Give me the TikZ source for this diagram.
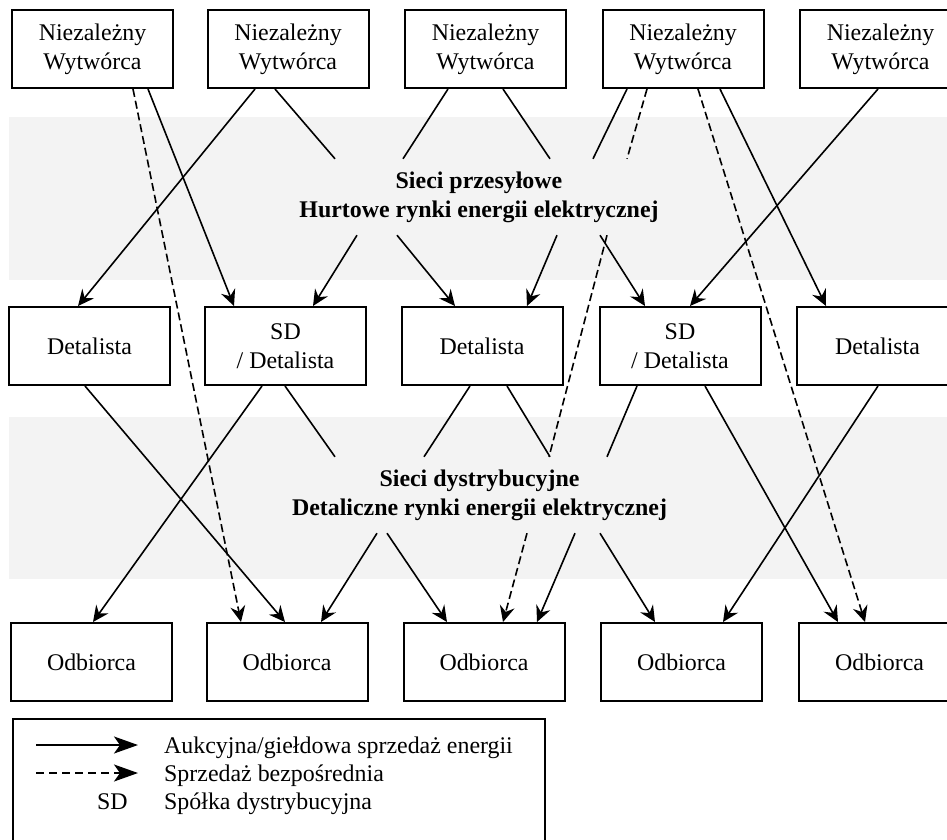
\documentclass[tikz,border=0pt]{standalone}
\usepackage{fontspec}
\setmainfont{Liberation Serif}
\usetikzlibrary{arrows.meta}
\definecolor{bandgray}{RGB}{243,243,243}
\newcommand\mainfnt{\fontsize{23.9pt}{29pt}\selectfont}
\begin{document}
\begin{tikzpicture}[x=1pt,y=-1pt,
  box/.style={draw, line width=2pt, minimum width=161pt, minimum height=78pt, inner sep=0pt, align=center, font=\mainfnt},
  net/.style={minimum width=360pt, minimum height=76pt, inner sep=0pt, align=center, font=\mainfnt\bfseries},
  conn/.style={line width=1.6pt, -{Stealth[length=16pt,width=15pt,inset=5.5pt]}},
  plain/.style={line width=1.6pt},
  dsh/.style={dash pattern=on 8pt off 4pt},
  legarr/.style={line width=1.8pt, -{Stealth[length=24pt,width=17pt,inset=6pt]}},
  legdsh/.style={dash pattern=on 8pt off 5pt},
  legtxt/.style={anchor=base west, inner sep=0pt, font=\mainfnt}
]
\useasboundingbox (0,0) rectangle (947,839);
\clip (0,0) rectangle (947,839);
% bands
\fill[bandgray] (9,117) rectangle (947,280);
\fill[bandgray] (9,417) rectangle (947,579);
% top row
\node[box] (T1) at (92.5,49) {Niezależny\\Wytwórca};
\node[box] (T2) at (288,49) {Niezależny\\Wytwórca};
\node[box] (T3) at (485.5,49) {Niezależny\\Wytwórca};
\node[box] (T4) at (683,49) {Niezależny\\Wytwórca};
\node[box] (T5) at (880.5,49) {Niezależny\\Wytwórca};
% middle row
\node[box] (M1) at (89.5,346) {Detalista};
\node[box] (M2) at (285.5,346) {SD\\/ Detalista};
\node[box] (M3) at (482,346) {Detalista};
\node[box] (M4) at (680,346) {SD\\/ Detalista};
\node[box] (M5) at (877.5,346) {Detalista};
% bottom row
\node[box] (B1) at (91.5,662) {Odbiorca};
\node[box] (B2) at (287,662) {Odbiorca};
\node[box] (B3) at (484,662) {Odbiorca};
\node[box] (B4) at (681.5,662) {Odbiorca};
\node[box] (B5) at (879.5,662) {Odbiorca};
% band texts
\node[net] (NetA) at (479,197) {Sieci przesyłowe\\Hurtowe rynki energii elektrycznej};
\node[net] (NetB) at (479.5,495) {Sieci dystrybucyjne\\Detaliczne rynki energii elektrycznej};
% top connectors
\draw[conn,dsh] ([xshift=40.5pt]T1.south) -- ([xshift=-46pt]B2.north);
\draw[conn] ([xshift=55.5pt]T1.south) -- ([xshift=-51.5pt]M2.north);
\draw[conn] ([xshift=-33pt]T2.south) -- ([xshift=-11.5pt]M1.north);
\draw[plain] ([xshift=-13pt]T2.south) -- ([xshift=-144pt]NetA.north);
\draw[plain] ([xshift=-37.5pt]T3.south) -- ([xshift=-76pt]NetA.north);
\draw[plain] ([xshift=17.5pt]T3.south) -- ([xshift=71pt]NetA.north);
\draw[plain] ([xshift=-56pt]T4.south) -- ([xshift=114pt]NetA.north);
\draw[plain,dsh] ([xshift=-36pt]T4.south) -- ([xshift=148pt]NetA.north);
\draw[conn,dsh] ([xshift=15pt]T4.south) -- ([xshift=-14.5pt]B5.north);
\draw[conn] ([xshift=37pt]T4.south) -- ([xshift=-51.5pt]M5.north);
\draw[conn] ([xshift=-2.5pt]T5.south) -- ([xshift=10pt]M4.north);
% from NetA
\draw[conn] ([xshift=-122pt]NetA.south) -- ([xshift=27.5pt]M2.north);
\draw[conn] ([xshift=-82pt]NetA.south) -- ([xshift=-27pt]M3.north);
\draw[conn] ([xshift=78pt]NetA.south) -- ([xshift=45pt]M3.north);
\draw[conn] ([xshift=121pt]NetA.south) -- ([xshift=-35pt]M4.north);
\draw[plain,dsh] ([xshift=128pt]NetA.south) -- ([xshift=69.5pt]NetB.north);
% middle connectors
\draw[conn] ([xshift=-4.5pt]M1.south) -- ([xshift=-2pt]B2.north);
\draw[conn] ([xshift=-23.5pt]M2.south) -- ([xshift=1.5pt]B1.north);
\draw[plain] ([xshift=-0.5pt]M2.south) -- ([xshift=-144.5pt]NetB.north);
\draw[plain] ([xshift=-12pt]M3.south) -- ([xshift=-55.5pt]NetB.north);
\draw[plain] ([xshift=25pt]M3.south) -- ([xshift=70.5pt]NetB.north);
\draw[plain] ([xshift=-43pt]M4.south) -- ([xshift=127.5pt]NetB.north);
\draw[conn] ([xshift=25pt]M4.south) -- ([xshift=-41.5pt]B5.north);
\draw[conn] ([xshift=0.5pt]M5.south) -- ([xshift=41.5pt]B4.north);
% from NetB
\draw[conn] ([xshift=-102.5pt]NetB.south) -- ([xshift=34pt]B2.north);
\draw[conn] ([xshift=-92.5pt]NetB.south) -- ([xshift=-37pt]B3.north);
\draw[conn,dsh] ([xshift=47.5pt]NetB.south) -- ([xshift=19pt]B3.north);
\draw[conn] ([xshift=95.5pt]NetB.south) -- ([xshift=53pt]B3.north);
\draw[conn] ([xshift=120.5pt]NetB.south) -- ([xshift=-26.5pt]B4.north);
% legend
\draw[line width=2pt] (13,719) rectangle (545,870);
\coordinate (L1a) at (36,745);
\coordinate (L1b) at (138,745);
\coordinate (L2a) at (36,773);
\coordinate (L2b) at (138,773);
\draw[legarr] (L1a) -- (L1b);
\draw[legarr,legdsh] (L2a) -- (L2b);
\node[legtxt] (Lt1) at (164,753) {Aukcyjna/giełdowa sprzedaż energii};
\node[legtxt] (Lt2) at (164,781) {Sprzedaż bezpośrednia};
\node[legtxt] (Lsd) at (97,809) {SD};
\node[legtxt] (Lt3) at (164,809) {Spółka dystrybucyjna};
\end{tikzpicture}
\end{document}
